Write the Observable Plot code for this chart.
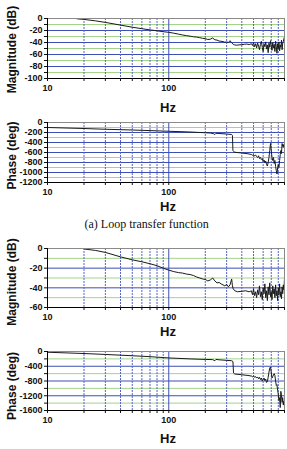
<!DOCTYPE html>
<html>
<head>
<meta charset="utf-8">
<script src="https://cdn.jsdelivr.net/npm/d3@7"></script>
<script src="https://cdn.jsdelivr.net/npm/@observablehq/plot@0.6"></script>
<style>
  html, body { margin: 0; padding: 0; background: #fff; }
  #root { position: relative; width: 287px; height: 449px; overflow: hidden; }
  #root svg { position: absolute; left: 0; overflow: visible; }
  .caption { position: absolute; top: 217px; left: 146.7px; transform: translateX(-50%);
    font-family: "Liberation Serif", "Times New Roman", serif; font-size: 12px; line-height: 14px; white-space: nowrap; color: #111; }
</style>
</head>
<body>
<div id="root"></div>
<script>
// ---- Data ----
const xTicks = [10, 20, 30, 40, 50, 60, 70, 80, 90, 100, 200, 300, 400, 500, 600, 700, 800, 900];
const xTickLabels = [10, 100];

// (a) Loop transfer function: magnitude
const magAFreq = [17.5, 20, 25, 30, 40, 50, 60, 70, 80, 90, 100, 110, 120, 130, 140, 150, 160, 170, 180, 190,
  200, 210, 220, 230, 240, 250, 260, 270, 280, 290, 300, 310, 320, 330, 340, 350, 360, 380, 400, 420, 440, 460, 480,
  490, 500, 510, 520, 530, 540, 550, 560, 570, 580, 590, 600, 610, 620, 630, 640, 650, 660, 670, 680, 690, 700,
  710, 720, 730, 740, 750, 760, 770, 780, 790, 800, 810, 820, 830, 840, 850, 860, 870, 880, 890, 900];
const magADb = [-0.5, -1.5, -4, -6.5, -11, -14.5, -17, -19, -20.5, -22, -23, -24.5, -26, -27.5, -28.5, -29.5, -30.5, -31, -32, -33,
  -33.5, -35, -34.5, -32.5, -35.5, -36, -37.5, -38, -38.5, -39.5, -39, -40, -37, -40.5, -43, -44, -44.5, -44, -43.5, -43, -42.5, -43.5, -42,
  -45, -40, -47, -42, -49, -41, -46, -52, -43, -38, -48, -55, -42, -47, -39, -51, -44, -57, -41, -48, -37, -46,
  -53, -40, -49, -43, -55, -38, -47, -58, -42, -50, -39, -54, -44, -48, -36, -52, -41, -38, -34, -30];
const magATicks = [0, -20, -40, -60, -80, -100];
const magAMinor = [-10, -30, -50, -70, -90];

// (a) Loop transfer function: phase
const phaseAFreq = [10, 20, 30, 50, 70, 100, 150, 200, 220, 235, 240, 245, 260, 300, 330, 335, 338, 345, 350, 400, 450, 480,
  490, 500, 510, 520, 530, 540, 550, 560, 570, 580, 590, 600, 610, 620, 630, 640, 650, 660, 670, 680, 690, 695, 700,
  710, 720, 730, 740, 750, 760, 770, 780, 790, 800, 810, 820, 830, 840, 850, 860, 870, 880, 890, 900];
const phaseADeg = [-100, -120, -135, -150, -162, -175, -190, -205, -210, -225, -240, -215, -220, -230, -240, -260, -560, -585, -595, -610, -625, -640,
  -655, -640, -670, -650, -680, -700, -665, -720, -700, -740, -720, -780, -750, -800, -770, -840, -870, -800, -700, -560, -420, -480, -560,
  -700, -760, -700, -820, -760, -880, -960, -1030, -900, -840, -900, -760, -640, -560, -620, -420, -480, -440, -500, -460];
const phaseATicks = [0, -200, -400, -600, -800, -1000, -1200];
const phaseAMinor = [-100, -300, -500, -700, -900, -1100];

// (b) magnitude
const magBFreq = [20, 25, 30, 40, 50, 60, 70, 80, 90, 100, 110, 120, 130, 140, 150, 160, 170, 180, 190,
  200, 210, 220, 230, 240, 250, 260, 270, 280, 290, 300, 310, 320, 330, 335, 340, 350, 370, 400, 430, 460, 480,
  490, 500, 510, 520, 530, 540, 550, 560, 570, 580, 590, 600, 610, 620, 630, 640, 650, 660, 670, 680, 690, 700,
  710, 720, 730, 740, 750, 760, 770, 780, 790, 800, 810, 820, 830, 840, 850, 860, 870, 880, 890, 900];
const magBDb = [-0.5, -2, -4, -8.5, -11.5, -13.5, -15.5, -17.5, -20, -22, -23.5, -24.5, -25, -26, -26.5, -27.5, -29, -30, -31,
  -31.5, -33, -32, -30, -33, -35, -34.5, -36, -37, -38, -36.5, -39, -37, -31, -38, -41, -43, -44, -43.5, -43, -44, -43,
  -47, -41, -48, -44, -50, -42, -47, -38, -49, -44, -52, -40, -46, -36, -50, -43, -53, -39, -47, -35, -49, -44,
  -52, -38, -46, -41, -50, -37, -48, -43, -53, -40, -47, -36, -49, -44, -51, -39, -46, -37, -42, -30];
const magBTicks = [0, -20, -40, -60];
const magBMinor = [-10, -30, -50];

// (b) phase
const phaseBFreq = [10, 20, 30, 50, 70, 100, 150, 200, 230, 240, 245, 260, 300, 330, 338, 342, 350, 400, 450, 480,
  490, 500, 510, 520, 530, 540, 550, 560, 570, 580, 590, 600, 610, 620, 630, 640, 650, 660, 670, 680, 690, 700,
  710, 720, 730, 740, 750, 760, 770, 780, 790, 800, 810, 820, 830, 840, 850, 860, 870, 880, 890, 900];
const phaseBDeg = [-20, -55, -80, -115, -140, -175, -200, -215, -220, -250, -215, -225, -240, -250, -270, -580, -610, -630, -650, -665,
  -690, -660, -700, -680, -720, -690, -740, -700, -760, -720, -800, -760, -720, -790, -750, -840, -820, -700, -560, -450, -420, -560,
  -720, -680, -640, -600, -650, -800, -920, -900, -1050, -1150, -1330, -1250, -1520, -1080, -1200, -1380, -1250, -1450, -1350, -1500];
const phaseBTicks = [0, -400, -800, -1200, -1600];
const phaseBMinor = [-200, -600, -1000, -1400];

// ---- Drawing ----
const FONT = "'Liberation Sans', Arial, Helvetica, sans-serif";
const BLUE = "#3d4fb3";
const GREEN = "#a3d48a";
const VBLUE = "#5565c6";

function panel({freq, vals, ticks, minor, top, plotH, label, labelDy, hzDy}) {
  const mt = 18, mb = 38;
  const data = freq.map((f, i) => ({f, v: vals[i]}));
  const yMin = d3.min(ticks), yMax = d3.max(ticks);
  const allY = [...ticks, ...minor].sort((a, b) => b - a);
  const innerMajor = ticks.filter(t => t !== yMin && t !== yMax);
  const svg = Plot.plot({
    width: 287,
    height: mt + plotH + mb,
    marginTop: mt,
    marginBottom: mb,
    marginLeft: 47,
    marginRight: 3,
    x: {type: "log", domain: [10, 900]},
    y: {domain: [yMin, yMax]},
    style: {fontFamily: FONT, fontSize: "9px", fontWeight: "bold", color: "#111", background: "transparent", overflow: "visible"},
    marks: [
      Plot.ruleY(minor, {stroke: GREEN, strokeWidth: 1}),
      Plot.ruleY(innerMajor, {stroke: BLUE, strokeWidth: 1}),
      Plot.ruleX(xTicks.filter(t => t !== 10 && t !== 100 && t !== 900), {stroke: VBLUE, strokeWidth: 1, strokeDasharray: "2,1"}),
      Plot.ruleX([100], {stroke: BLUE, strokeWidth: 1}),
      Plot.line(data, {x: "f", y: "v", stroke: "#1a1a1a", strokeWidth: 1}),
      Plot.frame({stroke: "#8a8a8a", strokeWidth: 1}),
      Plot.ruleX([10], {stroke: "#000", strokeWidth: 1}),
      Plot.ruleY([yMin], {stroke: "#000", strokeWidth: 1}),
      Plot.axisY({ticks: allY, tickSize: 3, tickPadding: 2, label: null,
        tickFormat: d => ticks.includes(d) ? String(d) : ""}),
      Plot.axisX({ticks: xTicks, tickSize: 3, tickPadding: 3, label: null,
        tickFormat: d => xTickLabels.includes(d) ? String(d) : ""}),
      Plot.text(["Hz"], {frameAnchor: "bottom", lineAnchor: "middle", textAnchor: "middle", dx: 2, dy: hzDy,
        fontSize: 13, fontWeight: "bold", fill: "#111"}),
      Plot.text([label], {frameAnchor: "left", rotate: -90, textAnchor: "middle", lineAnchor: "middle",
        dx: -35, dy: labelDy, fontSize: 12, fontWeight: "bold", fill: "#111"})
    ]
  });
  svg.style.top = (top - mt) + "px";
  return svg;
}

const root = document.getElementById("root");
root.appendChild(panel({freq: magAFreq, vals: magADb, ticks: magATicks, minor: magAMinor,
  top: 18, plotH: 60, label: "Magnitude (dB)", labelDy: 1, hzDy: 29}));
root.appendChild(panel({freq: phaseAFreq, vals: phaseADeg, ticks: phaseATicks, minor: phaseAMinor,
  top: 122.3, plotH: 60, label: "Phase (deg)", labelDy: 3, hzDy: 24.5}));
const cap = document.createElement("div");
cap.className = "caption";
cap.textContent = "(a) Loop transfer function";
root.appendChild(cap);
root.appendChild(panel({freq: magBFreq, vals: magBDb, ticks: magBTicks, minor: magBMinor,
  top: 248.3, plotH: 59, label: "Magnitude (dB)", labelDy: 4, hzDy: 24.5}));
root.appendChild(panel({freq: phaseBFreq, vals: phaseBDeg, ticks: phaseBTicks, minor: phaseBMinor,
  top: 351, plotH: 59, label: "Phase (deg)", labelDy: 5, hzDy: 28}));
</script>
</body>
</html>
